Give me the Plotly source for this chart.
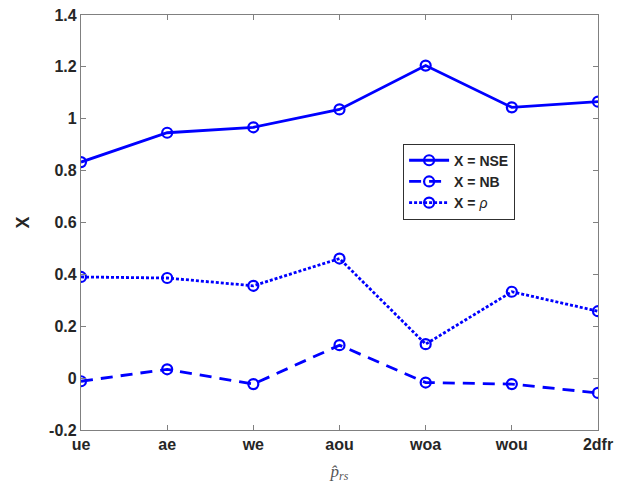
import plotly.graph_objects as go

# Categories along the x axis
categories = ["ue", "ae", "we", "aou", "woa", "wou", "2dfr"]

# Series values
nse = [0.833, 0.946, 0.967, 1.036, 1.205, 1.044, 1.066]
nb = [-0.012, 0.034, -0.023, 0.127, -0.017, -0.023, -0.057]
rho = [0.390, 0.386, 0.356, 0.461, 0.131, 0.333, 0.258]

# Y tick labels
y_ticks = [-0.2, 0, 0.2, 0.4, 0.6, 0.8, 1, 1.2, 1.4]
y_ticktext = ["-0.2", "0", "0.2", "0.4", "0.6", "0.8", "1", "1.2", "1.4"]

blue = "rgb(0,0,255)"
xpos = list(range(len(categories)))

series = [
    ("<b>X = NSE</b>", nse, "solid"),
    ("<b>X = NB</b>", nb, "12px,8px"),
    ("<b>X = </b><i>ρ</i>", rho, "3px,2px"),
]

fig = go.Figure()
for name, vals, dash in series:
    fig.add_trace(go.Scatter(
        x=xpos, y=vals, name=name, mode="lines+markers",
        line=dict(color=blue, width=2.8, dash=dash),
        marker=dict(symbol="circle-open", size=10, color=blue,
                    line=dict(width=2.2, color=blue)),
    ))

axis_common = dict(
    showgrid=False, zeroline=False, showline=True, mirror="ticks",
    linecolor="#808080", linewidth=1.3, ticks="inside", ticklen=5,
    tickcolor="#808080", automargin=False,
    tickfont=dict(family="Liberation Sans, Arial, sans-serif", size=16,
                  color="#262626"),
)

fig.update_layout(
    width=629, height=493,
    margin=dict(l=81, r=31, t=15, b=63),
    paper_bgcolor="white", plot_bgcolor="white",
    font=dict(family="Liberation Sans, Arial, sans-serif", color="#262626"),
    xaxis=dict(
        range=[0, 6], tickvals=xpos,
        ticktext=["<b>%s</b>" % c for c in categories],
        title=dict(text="<i>p̂</i><sub><i>rs</i></sub>",
                   font=dict(family="Liberation Serif, serif", size=17,
                             color="#555"),
                   standoff=12),
        **axis_common,
    ),
    yaxis=dict(
        range=[-0.2, 1.4], tickvals=y_ticks,
        ticktext=["<b>%s</b>" % t for t in y_ticktext],
        title=dict(text="<b>X</b>", font=dict(size=18, color="#262626"),
                   standoff=14),
        **axis_common,
    ),
    legend=dict(
        x=0.623, y=0.69, xanchor="left", yanchor="top",
        bgcolor="white", bordercolor="#303030", borderwidth=1,
        font=dict(size=14, color="#262626"),
        tracegroupgap=0, itemwidth=40,
    ),
    showlegend=True,
)

fig.write_html("out.html")
